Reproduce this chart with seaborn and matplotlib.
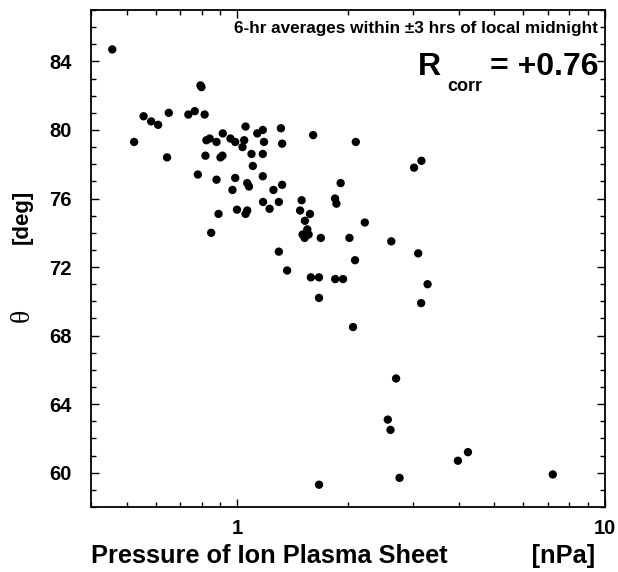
import numpy as np
import pandas as pd
import matplotlib
matplotlib.use("Agg")
import matplotlib.pyplot as plt
import seaborn as sns
from matplotlib.ticker import LogLocator, FixedLocator, MultipleLocator, NullFormatter

# Pressure of ion plasma sheet [nPa]
pressure = [0.457, 0.524, 0.556, 0.583, 0.609, 0.651, 0.644, 0.736, 0.766, 0.815,
            0.794, 0.799, 0.824, 0.841, 0.878, 0.913, 0.958, 0.987, 0.819, 0.900,
            0.911, 0.781, 0.878, 0.987, 0.970, 0.998, 0.889, 1.064, 1.053, 0.849,
            1.053, 1.044, 1.033, 1.133, 1.173, 1.182, 1.314, 1.324, 1.608, 1.093,
            1.173, 1.102, 1.064, 1.076, 1.173, 1.254, 1.324, 1.910, 1.175, 1.224,
            1.297, 1.496, 1.482, 1.576, 1.527, 1.550, 1.505, 1.524, 1.563, 1.687,
            1.844, 1.860, 2.100, 2.018, 2.222, 2.090, 2.623, 3.025, 3.168, 3.104,
            3.292, 3.162, 1.297, 1.366, 1.585, 1.668, 1.846, 1.939, 1.668, 2.064,
            2.703, 2.566, 2.610, 4.239, 3.981, 7.211, 2.762, 1.668]
# theta [deg]
theta = [84.7, 79.3, 80.8, 80.5, 80.3, 81.0, 78.4, 80.9, 81.1, 80.9,
         82.6, 82.5, 79.4, 79.5, 79.3, 79.8, 79.5, 79.3, 78.5, 78.4,
         78.5, 77.4, 77.1, 77.2, 76.5, 75.35, 75.1, 75.3, 75.1, 74.0,
         80.2, 79.4, 79.0, 79.8, 80.0, 79.3, 80.1, 79.2, 79.7, 78.6,
         78.6, 77.9, 76.9, 76.7, 77.3, 76.5, 76.8, 76.9, 75.8, 75.4,
         75.8, 75.9, 75.3, 75.1, 74.7, 74.2, 73.9, 73.7, 73.9, 73.7,
         76.0, 75.7, 79.3, 73.7, 74.6, 72.4, 73.5, 77.8, 78.2, 72.8,
         71.0, 69.9, 72.9, 71.8, 71.4, 71.4, 71.3, 71.3, 70.2, 68.5,
         65.5, 63.1, 62.5, 61.2, 60.7, 59.9, 59.7, 59.3]

x_ticks = [1, 10]
x_tick_labels = ["1", "10"]
y_ticks = [60, 64, 68, 72, 76, 80, 84]
y_tick_labels = ["60", "64", "68", "72", "76", "80", "84"]

sns.set_style("ticks")
plt.rcParams['font.family'] = ['Liberation Sans', 'DejaVu Sans']
plt.rcParams['font.weight'] = 'bold'
for key in ["text.color", "axes.labelcolor", "xtick.color", "ytick.color",
            "axes.edgecolor"]:
    plt.rcParams[key] = "black"

W, H = 618, 572
fig = plt.figure(figsize=(W / 100, H / 100), dpi=100)
fig.patch.set_facecolor("white")
L, R, T, B = 91, 605, 10, 507
ax = fig.add_axes([L / W, 1 - B / H, (R - L) / W, (B - T) / H])

df = pd.DataFrame({"pressure": pressure, "theta": theta})
sns.scatterplot(data=df, x="pressure", y="theta", ax=ax, color="black",
                s=36, edgecolor="none", linewidth=0, legend=False)

ax.set_xscale("log")
ax.set_xlim(0.4, 10)
ax.set_ylim(58, 87)

ax.xaxis.set_major_locator(FixedLocator(x_ticks))
ax.set_xticklabels(x_tick_labels)
ax.xaxis.set_minor_locator(LogLocator(base=10, subs=np.arange(2, 10)))
ax.xaxis.set_minor_formatter(NullFormatter())
ax.yaxis.set_major_locator(FixedLocator(y_ticks))
ax.set_yticklabels(y_tick_labels)
ax.yaxis.set_minor_locator(MultipleLocator(1))

ax.tick_params(which="both", direction="in", top=True, right=True,
               color="black", labelcolor="black", width=1.0, labelsize=14.5)
ax.tick_params(which="major", length=6)
ax.tick_params(which="minor", length=3.5)
ax.tick_params(axis="y", which="major", pad=14)
ax.tick_params(axis="x", which="major", pad=9)
for lab in ax.get_xticklabels() + ax.get_yticklabels():
    lab.set_fontweight("bold")
for sp in ax.spines.values():
    sp.set_visible(True)
    sp.set_linewidth(1.3)
    sp.set_color("black")

ax.set_xlabel("Pressure of Ion Plasma Sheet" + " " * 12 + "[nPa]",
              fontsize=18.3, fontweight="bold", color="black")
ax.xaxis.set_label_coords((343 - L) / (R - L), (B - 556) / (B - T))
ax.xaxis.label.set_va("center")
ax.set_ylabel("")

def px(x, y):
    return x / W, 1 - y / H

fig.text(*px(22, 217), "[deg]", rotation=90, ha="center", va="center",
         fontsize=16, fontweight="bold", color="black")
fig.text(*px(22, 315), "θ", rotation=90, ha="center", va="center",
         fontsize=20, fontweight="normal", color="black",
         family=["Liberation Serif", "DejaVu Serif"])

fig.text(*px(598, 28), "6-hr averages within ±3 hrs of local midnight",
         ha="right", va="center", fontsize=12.3, fontweight="bold", color="black")
fig.text(*px(418, 75), "R", ha="left", va="baseline", fontsize=23,
         fontweight="bold", color="black")
fig.text(*px(447, 91), "corr", ha="left", va="baseline", fontsize=13,
         fontweight="bold", color="black")
fig.text(*px(598, 75), "= +0.76", ha="right", va="baseline", fontsize=23,
         fontweight="bold", color="black")

fig.savefig("out.png", dpi=100, facecolor="white")
